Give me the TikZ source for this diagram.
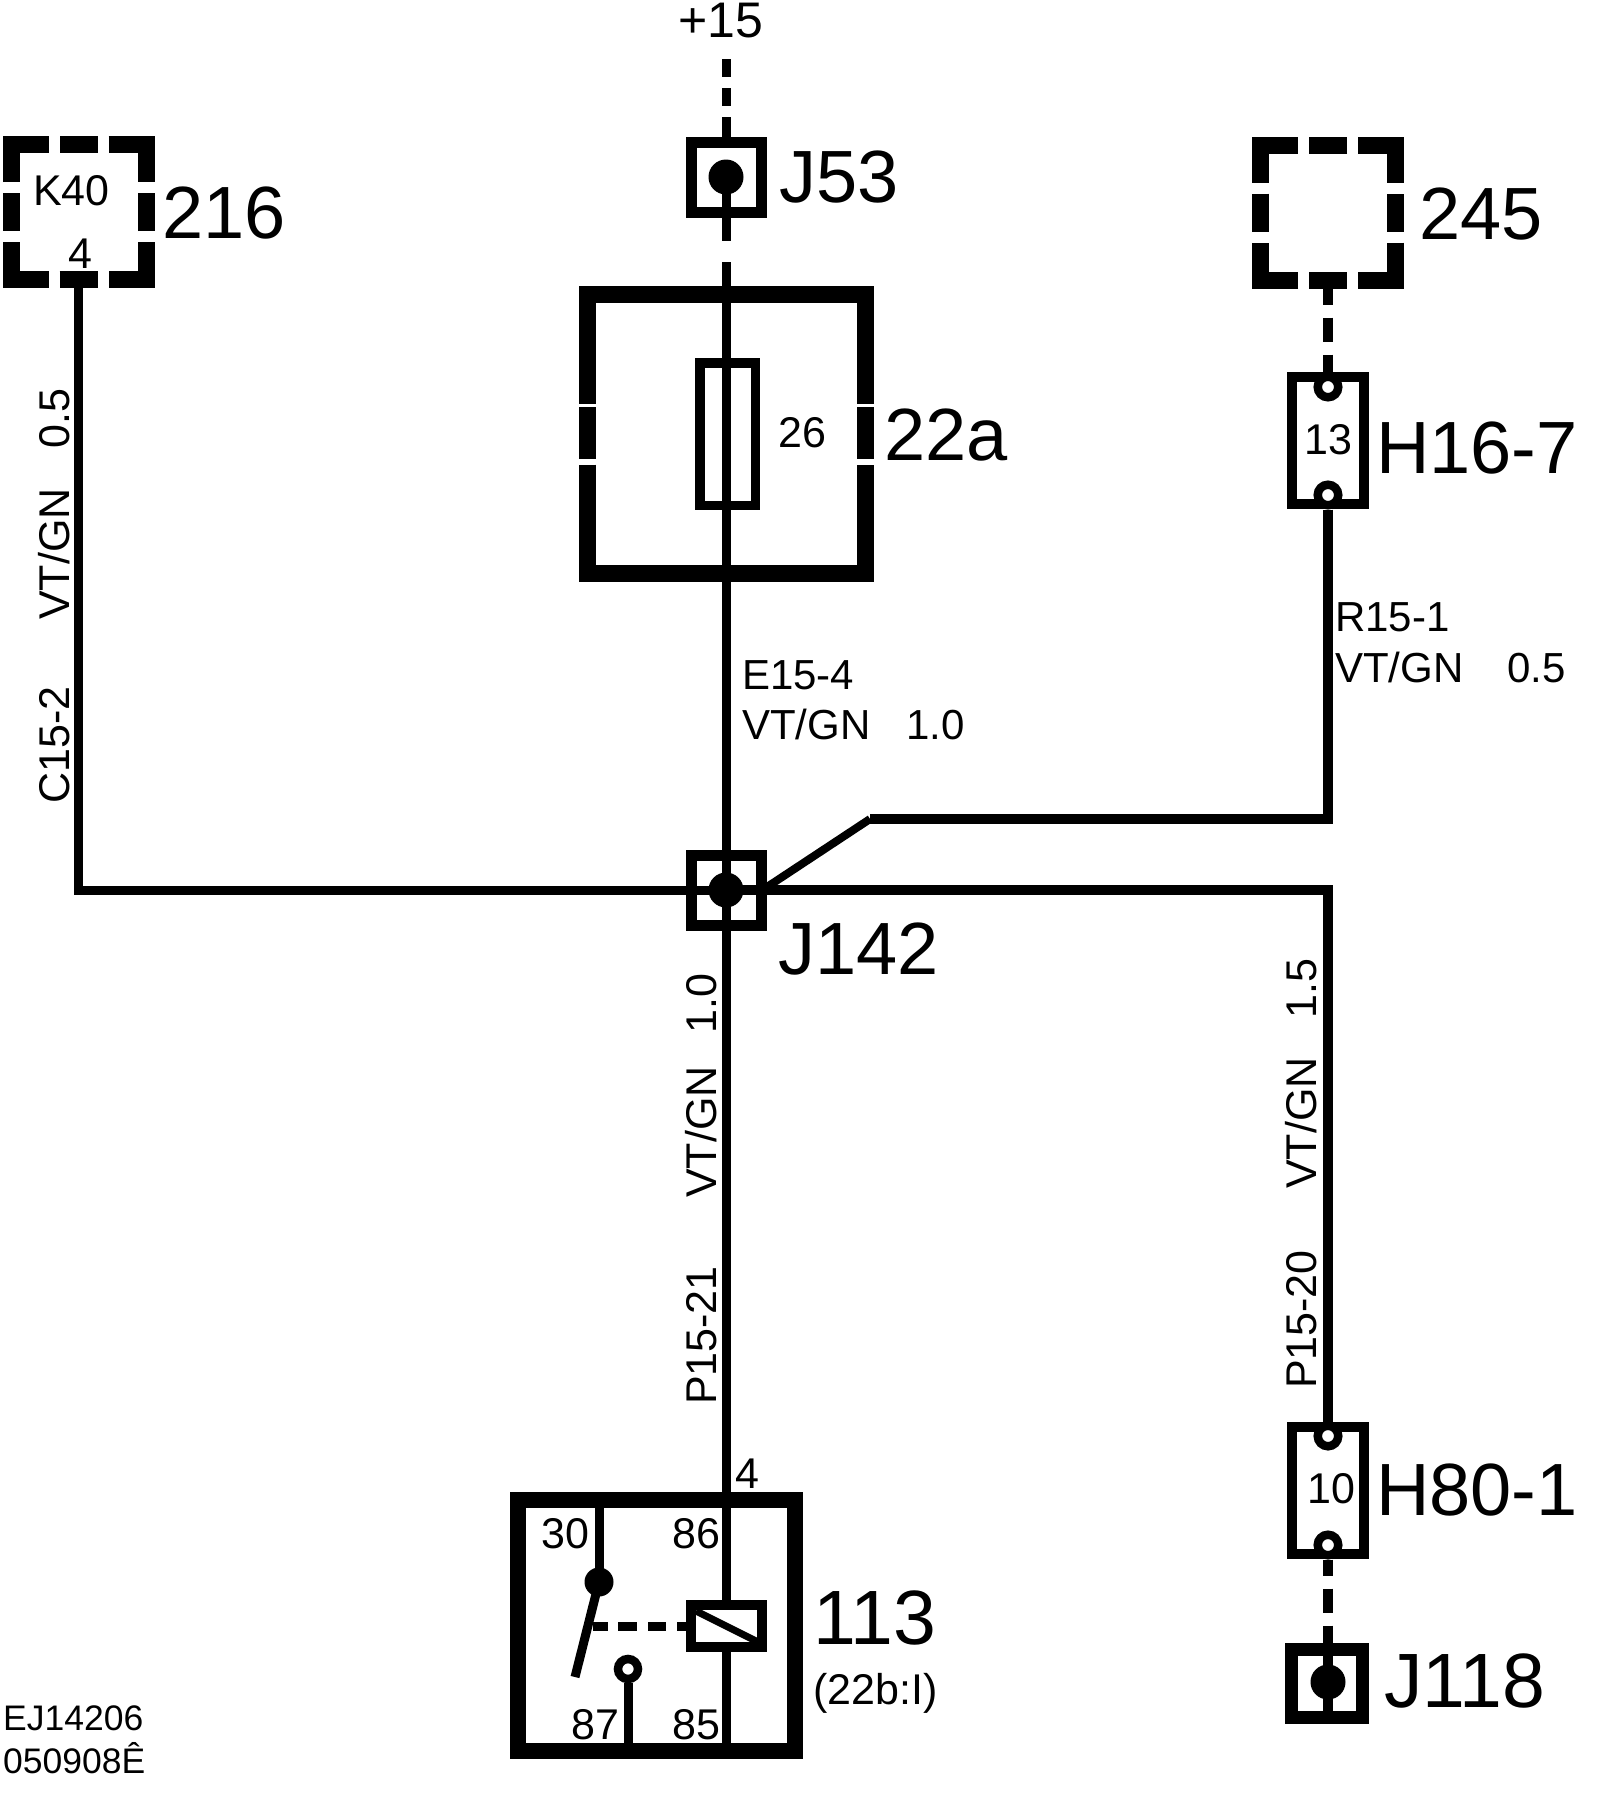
\documentclass[tikz,border=0pt]{standalone}
\usepackage{fontspec}
\setmainfont{Liberation Sans}

\tikzset{
	wire/.style = {line width = 9pt},
	rwire/.style = {line width = 10pt},
	plus/.style = {wire, dash pattern = on 18pt off 11pt on 18pt off 11pt on 20pt},
	link/.style = {rwire, dash pattern = on 16pt off 13pt on 24pt off 13pt on 30pt},
	couple/.style = {wire, dash pattern = on 15pt off 10pt on 19pt off 11pt on 18pt off 11pt on 10pt},
	frame/.style = {line width = 17pt},
	framebox/.style = {rectangle, inner sep = 0, minimum size = 152pt},
	junct/.style = {rectangle, draw, inner sep = 0, line width = 11pt, minimum width = 70pt, minimum height = 70pt},
	dot/.style = {circle, fill, inner sep = 0, minimum size = 35pt},
	plug/.style = {rectangle, draw, inner sep = 0, line width = 10pt, minimum width = 72pt, minimum height = 127pt},
	ring/.style = {circle, draw, fill = white, inner sep = 0, line width = 8.5pt, minimum size = 20.5pt},
	big/.style = {anchor = base west, inner sep = 0, font = \fontsize{74}{74}\selectfont},
	bigger/.style = {anchor = base west, inner sep = 0, font = \fontsize{77}{77}\selectfont},
	small/.style = {anchor = base west, inner sep = 0, font = \fontsize{43}{43}\selectfont},
	flat/.style = {anchor = base west, inner sep = 0, font = \fontsize{42}{42}\selectfont},
	upright/.style = {small, rotate = 90},
}

\newcommand{\dashframe}[1]{
	\foreach \a in {0, 90, 180, 270}
		\draw [frame, shift = {(#1.center)}, rotate = \a] (67.5, 30) -- (67.5, 67.5) -- (30, 67.5) (-19, 67.5) -- (19, 67.5);
}

\begin{document}
\begin{tikzpicture}[x = 1pt, y = -1pt]

\useasboundingbox (0, 0) rectangle (1600, 1802);

\node [framebox] (b216) at (78.5, 212) {};
\node [framebox] (b245) at (1328, 212.5) {};
\dashframe{b216}
\dashframe{b245}

\node [junct] (J53) at (726, 177) {};
\node [dot] (d53) at (726, 177) {};
\node [junct] (J142) at (726, 890) {};
\node [dot] (d142) at (726, 890) {};
\node [junct, line width = 13pt, minimum width = 71pt, minimum height = 68pt] (J118) at (1327, 1683) {};
\node [dot] (d118) at (1328, 1682) {};

\coordinate (c15) at (726, 59);
\coordinate (c53) at (726, 241);
\coordinate (c22) at (726, 262);

\draw [plus] (c15) -- (J53.north);
\draw [wire] (d53.center) -- (J53.south) -- (c53);
\draw [wire] (c22) -- (d142.center);

% fuse holder
\draw [frame] (587.5, 403.5) -- (587.5, 294) -- (865.5, 294) -- (865.5, 403.5);
\draw [frame] (587.5, 464.5) -- (587.5, 573) -- (865.5, 573) -- (865.5, 464.5);
\draw [frame] (587.5, 407) -- (587.5, 459);
\draw [frame] (865.5, 407) -- (865.5, 459);
\node [rectangle, draw, inner sep = 0, line width = 9.5pt, minimum width = 55.5pt, minimum height = 142.5pt] (F26) at (727.5, 434) {};

% plugs
\node [plug] (H16) at (1328, 440.5) {};
\node [ring] (t13a) at (1328, 387) {};
\node [ring] (t13b) at (1328, 495) {};
\node [plug] (H80) at (1328, 1490) {};
\node [ring] (t10a) at (1328, 1436) {};
\node [ring] (t10b) at (1328, 1545) {};

\coordinate (knee) at (870, 819);
\coordinate (tie) at (767, 887);
\draw [link] (b245.south) -- (t13a.north);
\draw [line width = 9.5pt] (t13b.south) -- (1328, 819) -- (knee);
\draw [line width = 8pt] (knee) -- (tie);
\draw [wire] (b216.south) |- (d142.center);
\draw [line width = 9.5pt] (d142.center) -| (t10a.north);
\draw [link] (t10b.south) -- (t10b.south |- J118.north);
\draw [rwire] (d118 |- J118.north) -- (d118 |- J118.south);

% relay
\node [rectangle, draw, inner sep = 0, line width = 16pt, minimum width = 277pt, minimum height = 251pt] (R113) at (656.5, 1625.5) {};
\node [rectangle, draw, fill = white, inner sep = 0, line width = 10pt, minimum width = 71pt, minimum height = 42pt] (coil) at (726, 1626) {};
\node [circle, fill, inner sep = 0, minimum size = 29pt] (d30) at (599, 1582) {};
\node [ring, minimum size = 20pt] (t87) at (628, 1669) {};
\coordinate (arm) at (575, 1677);
\coordinate (cpl) at (593, 1626);

\draw [wire] (d142.center) -- (coil.north);
\draw [wire] (coil.south) -- (coil.south |- R113.south);
\draw [wire] (d30 |- R113.north) -- (d30.center);
\draw [wire] (d30.center) -- (arm);
\draw [wire] (t87.south) -- (t87.south |- R113.south);
\draw [couple] (cpl) -- (coil.west);
\draw [line width = 7pt] (696, 1611) -- (758, 1642);

% labels
\node [small, font = \fontsize{50}{50}\selectfont] (l15) at (678, 37) {+15};
\node [big] (l216) at (162, 238) {216};
\node [big] (l245) at (1419, 239) {245};
\node [big] (lJ53) at (779, 202) {J53};
\node [big] (l22a) at (884, 460) {22a};
\node [big] (lJ142) at (778, 974) {J142};
\node [big] (lH16) at (1376, 473) {H16-7};
\node [big] (lH80) at (1376, 1515) {H80-1};
\node [bigger] (lJ118) at (1384, 1707) {J118};
\node [bigger] (l113) at (813, 1644) {113};

\node [small] (lK40) at (33, 205) {K40};
\node [small] (lK4) at (68, 268) {4};
\node [small] (l26) at (778, 447) {26};
\node [small] (l13) at (1304, 454) {13};
\node [small] (l10) at (1307, 1503) {10};
\node [small] (l4) at (735, 1488) {4};
\node [small] (l30) at (541, 1548) {30};
\node [small] (l86) at (672, 1548) {86};
\node [small] (l87) at (571, 1739) {87};
\node [small] (l85) at (672, 1739) {85};
\node [small] (l22b) at (813, 1704) {(22b:I)};

\node [flat] (lE15) at (742, 689) {E15-4};
\node [flat] (lE15b) at (742, 739) {VT/GN\hspace{36pt}1.0};
\node [flat] (lR15) at (1335, 631) {R15-1};
\node [flat] (lR15b) at (1335, 682) {VT/GN\hspace{44pt}0.5};

\node [upright] (lC15) at (69, 804) {C15-2};
\node [upright] (lC15b) at (69, 620) {VT/GN\hspace{40pt}0.5};
\node [upright] (lP21) at (716, 1405) {P15-21};
\node [upright] (lP21b) at (716, 1198) {VT/GN\hspace{33pt}1.0};
\node [upright] (lP20) at (1316, 1389) {P15-20};
\node [upright] (lP20b) at (1316, 1189) {VT/GN\hspace{39pt}1.5};

\node [anchor = base west, inner sep = 0, font = \fontsize{35.5}{35.5}\selectfont] (lEJ) at (3, 1730) {EJ14206};
\node [anchor = base west, inner sep = 0, font = \fontsize{35.5}{35.5}\selectfont] (lDate) at (3, 1773) {050908Ê};

\end{tikzpicture}
\end{document}
